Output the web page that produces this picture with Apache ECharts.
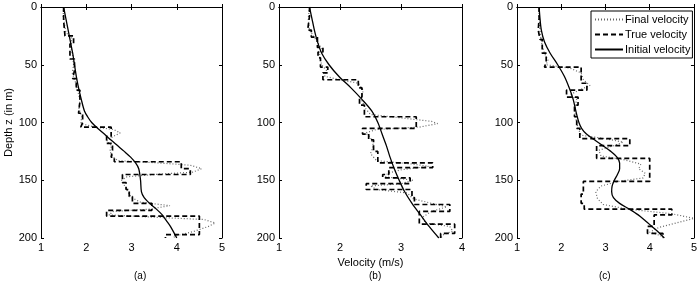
<!DOCTYPE html>
<html>
<head>
<meta charset="utf-8">
<script src="https://cdn.jsdelivr.net/npm/echarts@6/dist/echarts.min.js"></script>
<style>
  html, body { margin: 0; padding: 0; background: #fff; }
  #chart { width: 700px; height: 285px; }
</style>
</head>
<body>
<div id="chart"></div>
<script>
// depth ticks
const depthTicks = [0, 50, 100, 150, 200];
const panelLabels = ['(a)', '(b)', '(c)'];
const seriesNames = ['Final velocity', 'True velocity', 'Initial velocity'];

// ---------- panel (a) ----------
// true velocity: layer boundaries (m) and layer velocities
const trueADepth = [0, 12, 25, 32, 45, 55, 62, 72, 82, 92, 100, 104, 112, 118, 124, 130, 134, 140, 145, 152, 158, 164, 170, 176, 181, 197, 200];
const trueAVel   = [1.50, 1.53, 1.72, 1.64, 1.74, 1.70, 1.78, 1.86, 1.83, 1.92, 1.88, 2.55, 2.45, 2.58, 2.55, 2.62, 4.10, 4.30, 2.80, 2.88, 2.95, 3.02, 3.45, 2.45, 4.50, 3.75];
const initADepth = [0, 10, 20, 30, 40, 50, 60, 70, 80, 90, 95, 100, 105, 110, 115, 120, 125, 130, 135, 140, 150, 160, 165, 170, 175, 180, 185, 190, 200];
const initAVel   = [1.50, 1.55, 1.60, 1.65, 1.70, 1.74, 1.78, 1.83, 1.89, 1.96, 2.03, 2.12, 2.25, 2.40, 2.54, 2.69, 2.84, 2.98, 3.09, 3.16, 3.20, 3.22, 3.28, 3.40, 3.55, 3.68, 3.77, 3.86, 4.00];
const finalADepth = [0, 8, 15, 22, 27, 35, 42, 50, 57, 65, 74, 80, 88, 95, 101, 104, 106, 109, 112, 116, 120, 125, 130, 133, 135, 137, 140, 143, 145, 147, 150, 155, 160, 165, 169, 172, 175, 177, 180, 182, 184, 187, 190, 194, 198, 200];
const finalAVel   = [1.50, 1.49, 1.52, 1.55, 1.68, 1.66, 1.70, 1.72, 1.69, 1.76, 1.82, 1.86, 1.84, 1.90, 1.88, 2.20, 2.60, 2.75, 2.60, 2.45, 2.56, 2.52, 2.60, 2.70, 3.60, 4.30, 4.55, 4.35, 3.50, 2.90, 2.78, 2.85, 2.92, 3.00, 3.20, 3.85, 3.40, 2.60, 2.50, 3.50, 4.60, 4.85, 4.70, 4.40, 4.00, 3.90];

// ---------- panel (b) ----------
const trueBDepth = [0, 8, 20, 26, 35, 39, 44, 52, 57, 63, 70, 78, 85, 95, 105, 110, 115, 125, 135, 139, 145, 148, 153, 158, 165, 171, 177, 188, 196, 200];
const trueBVel   = [1.50, 1.47, 1.53, 1.63, 1.72, 1.64, 1.68, 1.80, 1.72, 2.30, 2.36, 2.32, 2.40, 3.25, 2.37, 2.47, 2.55, 2.62, 3.52, 2.80, 2.70, 3.15, 2.43, 3.18, 3.22, 3.80, 3.30, 3.88, 3.65];
const initBDepth = [0, 10, 20, 30, 40, 50, 60, 70, 80, 90, 100, 110, 120, 130, 140, 150, 160, 170, 180, 190, 200];
const initBVel   = [1.50, 1.54, 1.58, 1.63, 1.70, 1.82, 1.98, 2.18, 2.36, 2.52, 2.62, 2.69, 2.76, 2.82, 2.89, 2.97, 3.06, 3.18, 3.32, 3.46, 3.62];
const finalBDepth = [0, 10, 20, 28, 36, 42, 50, 55, 60, 63, 66, 72, 80, 88, 93, 96, 99, 101, 104, 106, 109, 113, 120, 127, 133, 136, 138, 141, 144, 147, 150, 153, 155, 158, 161, 166, 170, 173, 177, 182, 187, 190, 194, 197, 200];
const finalBVel   = [1.50, 1.48, 1.50, 1.60, 1.70, 1.66, 1.70, 1.78, 1.75, 2.00, 2.30, 2.38, 2.35, 2.42, 2.50, 3.00, 3.50, 3.60, 3.30, 2.60, 2.42, 2.50, 2.55, 2.50, 2.60, 3.20, 3.45, 3.00, 2.78, 2.75, 3.20, 3.00, 2.50, 2.60, 3.10, 3.20, 3.50, 3.75, 3.50, 3.35, 3.40, 3.80, 3.85, 3.70, 3.65];

// ---------- panel (c) ----------
const trueCDepth = [0, 10, 20, 28, 40, 48, 52, 66, 72, 78, 85, 95, 105, 114, 120, 131, 151, 162, 170, 175, 180, 190, 196, 200];
const trueCVel   = [1.50, 1.48, 1.52, 1.57, 1.66, 1.62, 2.45, 2.58, 2.12, 2.38, 2.30, 2.35, 2.42, 3.55, 2.80, 4.00, 2.50, 2.45, 2.52, 4.50, 4.10, 3.95, 4.30];
const initCDepth = [0, 10, 20, 30, 40, 50, 60, 70, 80, 90, 100, 105, 110, 115, 120, 125, 130, 135, 140, 145, 150, 155, 160, 165, 170, 175, 180, 185, 190, 195, 200];
const initCVel   = [1.50, 1.52, 1.55, 1.62, 1.75, 1.92, 2.07, 2.18, 2.27, 2.33, 2.40, 2.46, 2.57, 2.75, 2.94, 3.12, 3.26, 3.32, 3.32, 3.27, 3.20, 3.15, 3.14, 3.18, 3.32, 3.54, 3.74, 3.90, 4.05, 4.20, 4.33];
const finalCDepth = [0, 10, 20, 30, 40, 46, 50, 53, 57, 63, 68, 72, 76, 80, 88, 95, 105, 111, 114, 117, 120, 124, 129, 132, 136, 140, 144, 148, 151, 155, 160, 166, 171, 175, 179, 183, 187, 191, 195, 198, 200];
const finalCVel   = [1.50, 1.50, 1.52, 1.55, 1.62, 1.70, 1.66, 2.20, 2.45, 2.50, 2.65, 2.40, 2.20, 2.35, 2.30, 2.32, 2.38, 2.45, 3.00, 3.40, 3.20, 2.85, 2.90, 3.40, 3.80, 3.75, 3.90, 3.85, 3.30, 2.90, 2.78, 2.82, 2.95, 3.50, 4.50, 5.00, 4.60, 4.20, 4.00, 4.25, 4.30];

// pixel layout of the three boxes
const grids = [
    { left: 41, top: 7, width: 181, height: 231 },
    { left: 279, top: 7, width: 183, height: 231 },
    { left: 517, top: 7, width: 180, height: 231 }
];
const velMax = [5, 4, 5];

// [v, z] pairs for a layered model
function steps(depth, vel) {
    let pts = [];
    for (let i = 0; i < vel.length; i++) {
        pts.push([vel[i], depth[i]]);
        pts.push([vel[i], depth[i + 1]]);
    }
    return pts;
}
function pairs(depth, vel) {
    return depth.map((z, i) => [vel[i], z]);
}

const panels = [
    { tru: steps(trueADepth, trueAVel), ini: pairs(initADepth, initAVel), fin: pairs(finalADepth, finalAVel) },
    { tru: steps(trueBDepth, trueBVel), ini: pairs(initBDepth, initBVel), fin: pairs(finalBDepth, finalBVel) },
    { tru: steps(trueCDepth, trueCVel), ini: pairs(initCDepth, initCVel), fin: pairs(finalCDepth, finalCVel) }
];

const font = 'Liberation Sans, Arial, sans-serif';
const axisLine = { show: true, lineStyle: { color: '#000', width: 1 } };
const tick = { show: true, inside: true, length: 3, lineStyle: { color: '#000' } };

let xAxes = [], yAxes = [], series = [];

grids.forEach((g, idx) => {
    // bottom + top
    xAxes.push({
        type: 'value', gridIndex: idx, min: 1, max: velMax[idx], interval: 1,
        position: 'bottom',
        axisLine: axisLine, axisTick: tick, splitLine: { show: false },
        axisLabel: { color: '#000', fontSize: 11, fontFamily: font, margin: 4 },
        name: idx === 1 ? 'Velocity (m/s)' : '',
        nameLocation: 'middle', nameGap: 16,
        nameTextStyle: { color: '#000', fontSize: 11, fontFamily: font }
    });
    xAxes.push({
        type: 'value', gridIndex: idx, min: 1, max: velMax[idx], interval: 1,
        position: 'top',
        axisLine: axisLine, axisTick: tick, splitLine: { show: false },
        axisLabel: { show: false }
    });
    // left + right
    yAxes.push({
        type: 'value', gridIndex: idx, min: 0, max: 200, interval: 50, inverse: true,
        position: 'left',
        axisLine: axisLine, axisTick: tick, splitLine: { show: false },
        axisLabel: { color: '#000', fontSize: 11, fontFamily: font, margin: 4 },
        name: idx === 0 ? 'Depth z (in m)' : '',
        nameLocation: 'middle', nameGap: 27, nameRotate: 90,
        nameTextStyle: { color: '#000', fontSize: 11, fontFamily: font }
    });
    yAxes.push({
        type: 'value', gridIndex: idx, min: 0, max: 200, interval: 50, inverse: true,
        position: 'right',
        axisLine: axisLine, axisTick: tick, splitLine: { show: false },
        axisLabel: { show: false }
    });

    let p = panels[idx];
    series.push({
        name: seriesNames[0], type: 'line', xAxisIndex: idx * 2, yAxisIndex: idx * 2,
        data: p.fin, showSymbol: false, symbol: 'none', animation: false,
        itemStyle: { color: '#666' },
        lineStyle: { color: '#666', width: 1.2, type: [1, 2] }
    });
    series.push({
        name: seriesNames[1], type: 'line', xAxisIndex: idx * 2, yAxisIndex: idx * 2,
        data: p.tru, showSymbol: false, symbol: 'none', animation: false,
        itemStyle: { color: '#000' },
        lineStyle: { color: '#000', width: 1.7, type: [5, 3] }
    });
    series.push({
        name: seriesNames[2], type: 'line', xAxisIndex: idx * 2, yAxisIndex: idx * 2,
        data: p.ini, showSymbol: false, symbol: 'none', smooth: 0.3, animation: false,
        itemStyle: { color: '#000' },
        lineStyle: { color: '#000', width: 1.3 }
    });
});

const captionX = [140, 375, 605];

let option = {
    animation: false,
    backgroundColor: '#fff',
    grid: grids,
    xAxis: xAxes,
    yAxis: yAxes,
    series: series,
    legend: {
        data: seriesNames,
        orient: 'vertical',
        left: 591, top: 11,
        itemWidth: 28, itemHeight: 8, itemGap: 4,
        padding: [3, 2, 3, 3],
        borderColor: '#000', borderWidth: 1,
        backgroundColor: '#fff',
        selectedMode: false,
        itemStyle: { opacity: 0, borderWidth: 0 },
        textStyle: { color: '#000', fontSize: 11, fontFamily: font, padding: [0, 0, 0, -3] }
    },
    graphic: panelLabels.map((t, i) => ({
        type: 'text', left: captionX[i] - 6, top: 271,
        style: { text: t, fill: '#000', font: '10px ' + font }
    }))
};

let chart = echarts.init(document.getElementById('chart'));
chart.setOption(option);
</script>
</body>
</html>
